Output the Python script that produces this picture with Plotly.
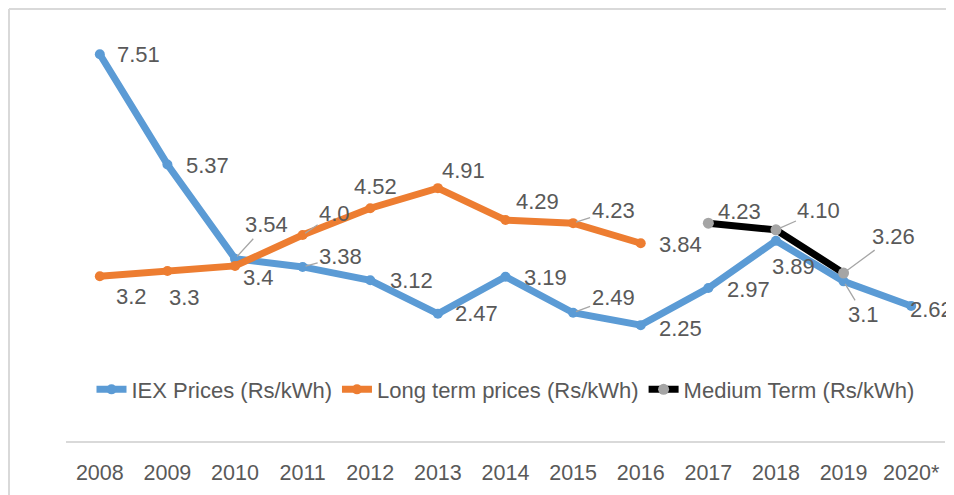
import plotly.graph_objects as go

years = ["2008", "2009", "2010", "2011", "2012", "2013", "2014", "2015", "2016", "2017", "2018", "2019", "2020*"]
iex = [7.51, 5.37, 3.54, 3.38, 3.12, 2.47, 3.19, 2.49, 2.25, 2.97, 3.89, 3.1, 2.62]
long_term = [3.2, 3.3, 3.4, 4.0, 4.52, 4.91, 4.29, 4.23, 3.84, None, None, None, None]
medium_term = [None, None, None, None, None, None, None, None, None, 4.23, 4.10, 3.26, None]

names = ["IEX Prices (Rs/kWh)", "Long term prices (Rs/kWh)", "Medium Term (Rs/kWh)"]

# label offsets in pixels (dx, dy; dy positive = down) and leader-line flags (style)
iex_off = [(39, 0), (40, 1), (31, -34), (38, -10), (41, 0), (39, 0), (40, 1), (40, -15), (40, 3), (40, 1), (18, 26), (20, 33), (20, 3)]
iex_lead = [False, False, True, True, False, False, False, True, False, False, False, True, False]
lt_off = [(32, 20), (17, 26), (23, 12), (32, -22), (5, -22), (26, -18), (32, -19), (40, -13), (40, 1)]
lt_lead = [False, False, False, True, False, False, False, True, False]
mt_off = {9: (31, -12), 10: (43, -19), 11: (50, -37)}
mt_lead = {9: False, 10: True, 11: True}

# the page shows the figure offset by ~8px; positions below are in figure pixels
OFF = 8
W, H = 954, 495
ML, MT = 66 - OFF, 29 - OFF
PLOT_R, PLOT_B = 945 - OFF, 441.5 - OFF
MR, MB = W - PLOT_R, H - PLOT_B
PW, PH = W - ML - MR, H - MT - MB

BLUE, ORANGE, BLACK, GRAY = "#5B9BD5", "#ED7D31", "#000000", "#A5A5A5"
TXT = "#595959"
FONT = "Liberation Sans, Arial, sans-serif"
LBL = 22

fig = go.Figure()
fig.add_trace(go.Scatter(x=years, y=iex, name=names[0], mode="lines+markers",
                         line=dict(color=BLUE, width=7), marker=dict(color=BLUE, size=10)))
fig.add_trace(go.Scatter(x=years, y=long_term, name=names[1], mode="lines+markers",
                         line=dict(color=ORANGE, width=7), marker=dict(color=ORANGE, size=10)))
fig.add_trace(go.Scatter(x=years, y=medium_term, name=names[2], mode="lines+markers",
                         line=dict(color=BLACK, width=7), marker=dict(color=GRAY, size=11)))

annotations = []


def add_label(idx, y, text, off, lead):
    # category axis: annotation x given as category index
    dx, dy = off
    if lead:
        annotations.append(dict(x=idx, y=y, xref="x", yref="y", text=text, showarrow=True,
                                arrowhead=0, arrowwidth=1.3, arrowcolor="#A6A6A6",
                                ax=dx, ay=dy, standoff=3,
                                font=dict(size=LBL, color=TXT, family=FONT)))
    else:
        annotations.append(dict(x=idx, y=y, xref="x", yref="y", text=text, showarrow=False,
                                xshift=dx, yshift=-dy,
                                font=dict(size=LBL, color=TXT, family=FONT)))


for i, v in enumerate(iex):
    add_label(i, v, str(v), iex_off[i], iex_lead[i])
for i, v in enumerate(long_term):
    if v is not None:
        add_label(i, v, str(v), lt_off[i], lt_lead[i])
for i, v in enumerate(medium_term):
    if v is not None:
        add_label(i, v, f"{v:.2f}", mt_off[i], mt_lead[i])


def px_x(px):
    return (px - ML) / PW


def px_y(py):
    return (H - MB - py) / PH


shapes = [
    dict(type="line", xref="paper", yref="paper", x0=px_x(1), x1=px_x(W + 5), y0=px_y(1), y1=px_y(1),
         line=dict(color="#D9D9D9", width=2)),
    dict(type="line", xref="paper", yref="paper", x0=px_x(1), x1=px_x(1), y0=px_y(1), y1=px_y(H + 5),
         line=dict(color="#D9D9D9", width=2)),
]

fig.update_layout(
    width=W, height=H,
    margin=dict(l=ML, r=MR, t=MT, b=MB),
    paper_bgcolor="white", plot_bgcolor="white",
    font=dict(family=FONT, color=TXT),
    showlegend=True,
    legend=dict(orientation="h", x=0.5, xanchor="center", y=px_y(390 - OFF), yanchor="middle",
                font=dict(size=22, color=TXT, family=FONT), bgcolor="rgba(0,0,0,0)",
                itemwidth=30, tracegroupgap=0),
    xaxis=dict(type="category", range=[-0.5, len(years) - 0.5], showgrid=False, zeroline=False,
               showline=True, linecolor="#D9D9D9", linewidth=1.5, ticks="", ticklabelstandoff=11,
               tickfont=dict(size=21.5, color=TXT, family=FONT), fixedrange=True),
    yaxis=dict(range=[0, 8], visible=False, showgrid=False, zeroline=False, fixedrange=True),
    annotations=annotations,
    shapes=shapes,
)

fig.write_html("out.html")
